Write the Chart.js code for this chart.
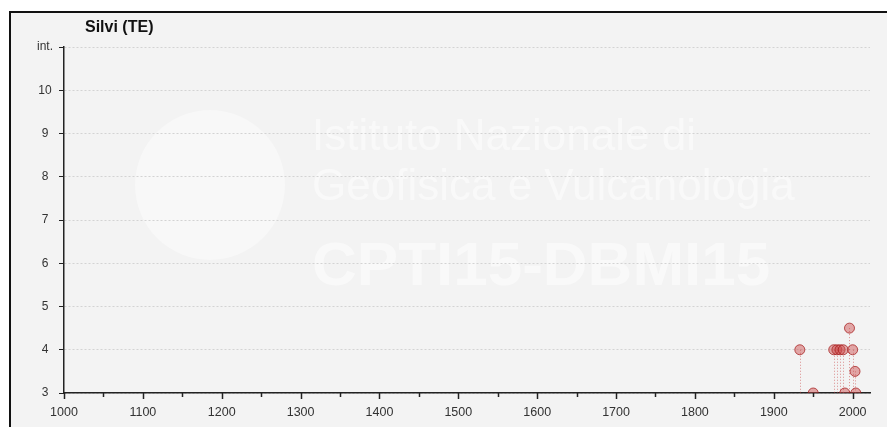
<!DOCTYPE html>
<html>
<head>
<meta charset="utf-8">
<script src="https://cdn.jsdelivr.net/npm/chart.js@4.4.1/dist/chart.umd.min.js"></script>
<style>
  html, body { margin: 0; padding: 0; background: #fff; }
  #wrap { width: 887px; height: 427px; }
</style>
</head>
<body>
<div id="wrap"><canvas id="quakes"></canvas></div>
<script>
// earthquake years and felt intensity at Silvi (TE)
var years     = [1933, 1950, 1976, 1980, 1984, 1988, 1996, 2000, 2003, 1990, 2004];
var intensity = [4,    3,    4,    4,    4,    4,    4.5,  4,    3.5,  3,    3];
var placeName = 'Silvi (TE)';
var yTop = 11;   // top tick shown as "int."

var points = years.map(function (y, i) { return {x: y, y: intensity[i]}; });

// frame, title and faint watermark
var framePlugin = {
    id: 'frame',
    beforeDraw: function (chart) {
        var c = chart.ctx;
        c.save();
        c.fillStyle = '#ffffff';
        c.fillRect(0, 0, chart.width, chart.height);
        c.fillStyle = '#f3f3f3';
        c.fillRect(10, 12, chart.width, chart.height);
        c.strokeStyle = '#111';
        c.lineWidth = 2;
        c.beginPath();
        c.moveTo(10, chart.height + 5);
        c.lineTo(10, 12);
        c.lineTo(chart.width + 5, 12);
        c.stroke();

        c.fillStyle = '#111';
        c.font = 'bold 16px "Liberation Sans", Arial, sans-serif';
        c.textBaseline = 'middle';
        c.fillText(placeName, 85, 28);

        // watermark
        c.globalAlpha = 0.4;
        c.fillStyle = '#ffffff';
        c.beginPath();
        c.arc(210, 185, 75, 0, Math.PI * 2);
        c.fill();
        c.globalAlpha = 0.5;
        c.textBaseline = 'alphabetic';
        c.font = '44px "Liberation Sans", Arial, sans-serif';
        c.fillText('Istituto Nazionale di', 312, 150, 430);
        c.fillText('Geofisica e Vulcanologia', 312, 200, 520);
        c.font = 'bold 62px "Liberation Sans Narrow", "Liberation Sans", Arial, sans-serif';
        c.fillText('CPTI15-DBMI15', 312, 285, 505);
        c.restore();
    },
    beforeDatasetsDraw: function (chart) {
        // dotted drop lines from each point to the axis
        var xs = chart.scales.x, ys = chart.scales.y;
        var c = chart.ctx;
        c.save();
        c.strokeStyle = 'rgba(200, 60, 60, 0.55)';
        c.lineWidth = 1;
        c.setLineDash([1, 2]);
        points.forEach(function (p) {
            var px = Math.round(xs.getPixelForValue(p.x)) + 0.5;
            c.beginPath();
            c.moveTo(px, ys.getPixelForValue(p.y));
            c.lineTo(px, ys.getPixelForValue(ys.min));
            c.stroke();
        });
        c.restore();
    },
    afterDraw: function (chart) {
        // century ticks and shorter 50-year ticks
        var xs = chart.scales.x;
        var c = chart.ctx;
        var base = chart.chartArea.bottom;
        c.save();
        c.strokeStyle = '#222';
        c.lineWidth = 1.5;
        for (var v = 1000; v <= 2000; v += 50) {
            var px = Math.round(xs.getPixelForValue(v)) + 0.5;
            c.beginPath();
            c.moveTo(px, base);
            c.lineTo(px, base + (v % 100 === 0 ? 6 : 4));
            c.stroke();
        }
        c.restore();
    }
};

var ctx = document.getElementById('quakes').getContext('2d');
var chart = new Chart(ctx, {
    type: 'scatter',
    data: {
        datasets: [{
            data: points,
            pointRadius: 5,
            pointHoverRadius: 5,
            backgroundColor: 'rgba(205, 70, 70, 0.45)',
            borderColor: 'rgba(165, 30, 30, 0.75)',
            borderWidth: 1
        }]
    },
    options: {
        responsive: true,
        maintainAspectRatio: false,
        animation: false,
        layout: { padding: { top: 47, left: 10, right: 17, bottom: 0 } },
        scales: {
            x: {
                type: 'linear',
                min: 1000,
                max: 2022,
                afterFit: function (s) { s.height = 34; },
                ticks: {
                    stepSize: 100,
                    includeBounds: false,
                    autoSkip: false,
                    maxRotation: 0,
                    padding: 12,
                    color: '#333',
                    font: { family: '"Liberation Sans", Arial, sans-serif', size: 12.5 },
                    callback: function (v) { return String(v); }
                },
                grid: { display: true, drawOnChartArea: false, drawTicks: false, tickLength: 6 },
                border: { color: '#222', width: 1.5 }
            },
            y: {
                min: 3,
                max: yTop,
                afterFit: function (s) { s.width = 54; },
                ticks: {
                    stepSize: 1,
                    crossAlign: 'center',
                    padding: 6,
                    color: '#333',
                    font: { family: '"Liberation Sans", Arial, sans-serif', size: 12 },
                    callback: function (v) { return v === yTop ? 'int.' : v; }
                },
                grid: { color: '#d3d3d3', tickColor: '#222', tickLength: 5, lineWidth: 1 },
                border: { color: '#222', width: 1.5, dash: [2, 2] }
            }
        },
        plugins: {
            legend: { display: false },
            tooltip: { enabled: false },
            title: { display: false }
        }
    },
    plugins: [framePlugin]
});
</script>
</body>
</html>
